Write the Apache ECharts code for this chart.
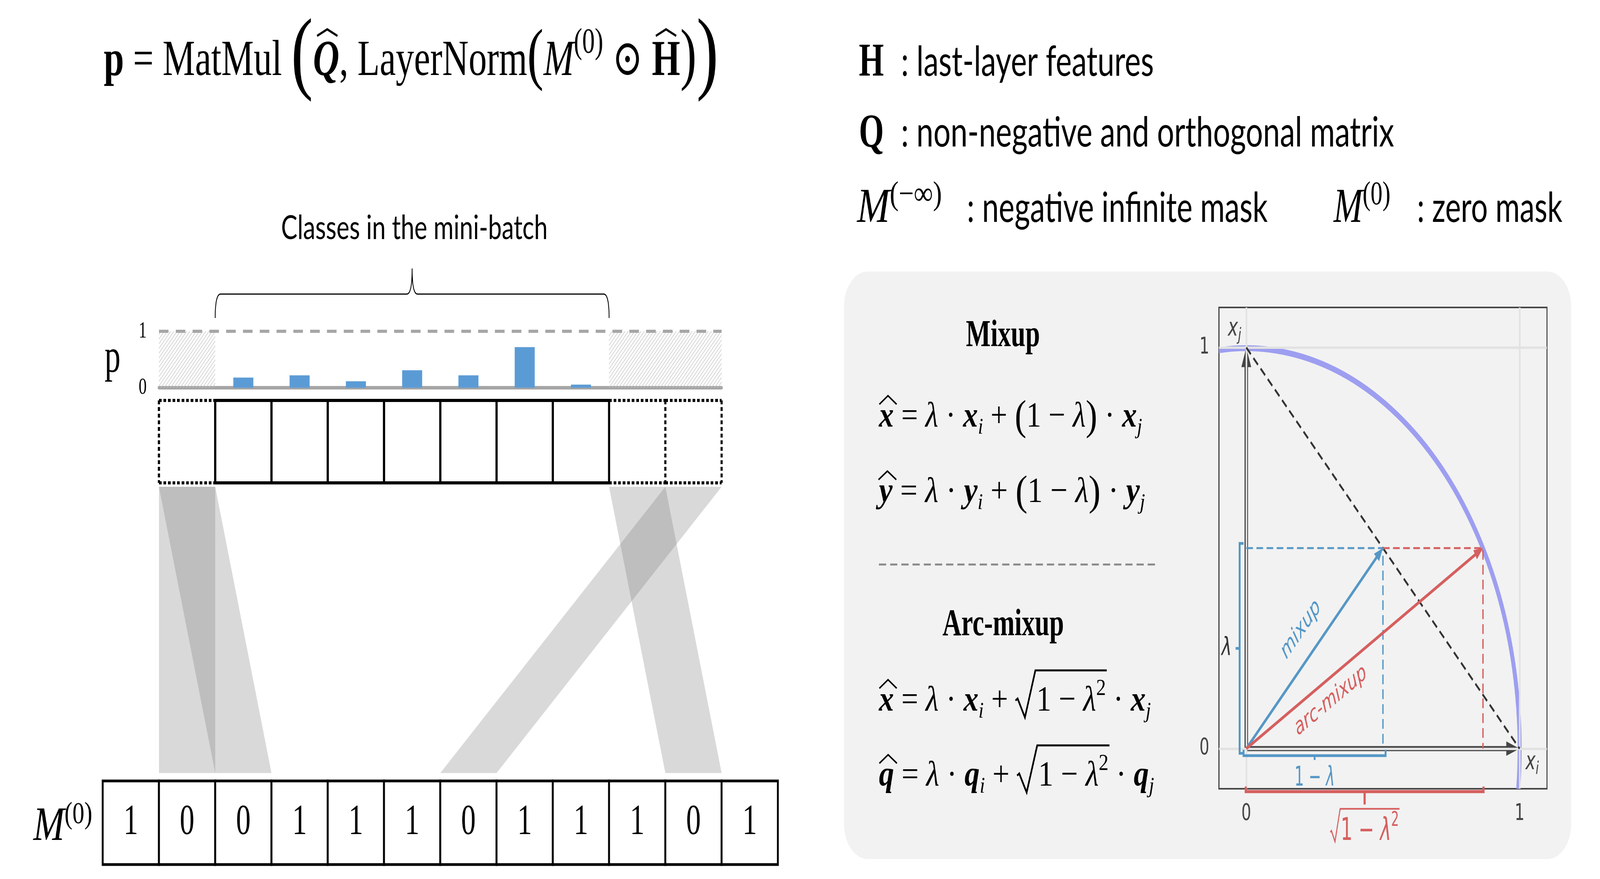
<!DOCTYPE html>
<html>
<head>
<meta charset="utf-8">
<script src="https://cdn.jsdelivr.net/npm/echarts@6/dist/echarts.min.js"></script>
<style>
  html, body { margin: 0; padding: 0; background: #fff; overflow: hidden; }
  #chart { width: 6000px; height: 2250px; transform-origin: 0 0; }
</style>
</head>
<body>
<div id="chart"></div>
<script>
// ---- data ----
const maskValues = [1, 0, 0, 1, 1, 1, 0, 1, 1, 1, 0, 1];
const topCells = ['masked', 'class', 'class', 'class', 'class', 'class', 'class', 'class', 'masked', 'masked'];
const pValues = [0.18, 0.22, 0.115, 0.31, 0.22, 0.72, 0.055];
const bandLinks = [[0, 1], [0, 2], [8, 10], [9, 6]]; // top cell -> bottom cell
const pTicks = [0, 1];

const lambdaVal = 0.5;
const mixupPoint = [0.5, 0.5];
const arcPoint = [0.866, 0.5];
const basis = [[1, 0], [0, 1]];
const basisNames = ['i', 'j'];
const unitTicks = [0, 1];
const unitCircle = [[0, 0, 1]];

// ---- styling ----
const SERIF = "'Liberation Serif', 'DejaVu Serif', serif";
const SANS = "Lato, 'Noto Sans', sans-serif";
const PLOT_FONT = "'DejaVu Sans', sans-serif";
const BLUE = '#5597c6';
const RED = '#d65f5f';
const INK = '#454545';

// rows grid uses cell units: one cell = 1 x 1
const ROW = { top: [0, 1], bandTop: 1.047, bandBottom: 4.52, bottom: [4.616, 5.63],
  braceEnd: -1.0, braceMid: -1.29, braceTip: -1.6 };

// ---- small text layout helper (math-like rows) ----
const mctx = document.createElement('canvas').getContext('2d');
const shiftCache = {};
function fontOf(o) {
  return (o.i ? 'italic ' : '') + (o.b ? 'bold ' : '') + o.s + 'px ' + o.f;
}
function midShift(font) {
  if (shiftCache[font] != null) return shiftCache[font];
  mctx.font = font;
  mctx.textBaseline = 'alphabetic';
  const a = mctx.measureText('Hxg').actualBoundingBoxAscent;
  mctx.textBaseline = 'middle';
  const m = mctx.measureText('Hxg').actualBoundingBoxAscent;
  mctx.textBaseline = 'alphabetic';
  return (shiftCache[font] = a - m);
}
function textRow(pieces, base) {
  const kids = [];
  let x = 0, prev = null, rad = null, overEnd = 0;
  for (const piece of pieces) {
    const o = Object.assign({ s: 100, f: SERIF, fill: '#000', dy: 0, dx: 0 }, base, piece);
    if (piece.rad) {
      rad = { x, e: o.s, fill: o.fill, H: (o.top || 1.2) * o.s, W: (o.w || 0.75) * o.s, B: (o.bot || 0.2) * o.s };
      x += rad.W;
      continue;
    }
    if (piece.hat) {
      const e = o.s, cx = prev.x + prev.w / 2 + o.dx, hw = o.w * e / 2, y0 = -o.y * e;
      kids.push({ type: 'polyline', shape: { points: [[cx - hw, y0], [cx, y0 - o.h * e], [cx + hw, y0]] },
        style: { stroke: o.fill, lineWidth: 0.045 * e, fill: 'none', lineJoin: 'miter' } });
      continue;
    }
    const font = fontOf(o);
    mctx.font = font;
    const w = mctx.measureText(o.t).width;
    const px = x + o.dx;
    kids.push({ type: 'text', x: px, y: o.dy - midShift(font),
      style: { text: o.t, font, fill: o.fill, align: 'left', verticalAlign: 'middle' } });
    prev = { x: px, w };
    x = px + w;
    if (piece.over) overEnd = x;
  }
  if (rad) {
    const { H, W, B } = rad;
    kids.push({ type: 'polyline',
      shape: { points: [[rad.x, -0.25 * H], [rad.x + 0.1 * W, -0.3 * H], [rad.x + 0.45 * W, B],
        [rad.x + 0.95 * W, -H], [overEnd + 0.03 * rad.e, -H]] },
      style: { stroke: rad.fill, lineWidth: 0.055 * rad.e, fill: 'none' } });
  }
  return { kids, width: x };
}
function place(row, x, y, width, extra) {
  const k = width ? width / row.width : 1;
  return Object.assign({ type: 'group', x, y, scaleX: k, children: row.kids }, extra || {});
}
function placeCenter(row, cx, y, width, extra) {
  const w = width || row.width;
  return place(row, cx - w / 2, y, width, extra);
}

// ---- hatch pattern for masked classes ----
const hatch = document.createElement('canvas');
hatch.width = hatch.height = 12;
const hc = hatch.getContext('2d');
hc.strokeStyle = '#c4c4c4';
hc.lineWidth = 1.6;
hc.beginPath();
hc.moveTo(0, 12); hc.lineTo(12, 0);
hc.moveTo(-6, 6); hc.lineTo(6, -6);
hc.moveTo(6, 18); hc.lineTo(18, 6);
hc.stroke();

const maskedRuns = [];
topCells.forEach((k, i) => {
  if (k !== 'masked') return;
  const last = maskedRuns[maskedRuns.length - 1];
  if (last && last[1] === i + 1) last[1] = i + 2;
  else maskedRuns.push([i + 1, i + 2]);
});
const classUnits = topCells.map((k, i) => [i + 1, k]).filter(d => d[1] === 'class').map(d => d[0]);

// ---- texts ----
const capHat = { hat: 1, s: 130, w: 0.56, h: 0.13, y: 0.77, dx: 4 };
const formula = textRow([
  { t: 'p', b: 1 }, { t: ' = ' }, { t: 'MatMul' }, { t: ' ' },
  { t: '(', s: 235, dy: 18 }, { t: 'Q', i: 1, b: 1 }, capHat,
  { t: ', ' }, { t: 'LayerNorm' }, { t: '(', s: 175, dy: 4 },
  { t: 'M', i: 1 }, { t: '(0)', s: 90, dy: -57 }, { t: ' ⊙ ' },
  { t: 'H', b: 1 }, Object.assign({}, capHat, { dx: 0 }),
  { t: ')', s: 175, dy: 4 }, { t: ')', s: 235, dy: 18 }
], { s: 130 });

function mixEq(v, sqrt) {
  const V = { t: v, i: 1, b: 1 };
  const sub = t => ({ t, i: 1, s: 58, dy: 18 });
  const head = [V, { hat: 1, w: 0.58, h: 0.24, y: 0.62, dx: 5 }, { t: ' = ' }, { t: 'λ', i: 1 }, { t: ' · ' }, V, sub('i'), { t: ' + ' }];
  const mid = sqrt
    ? [{ rad: 1, top: 1.12, w: 0.7, bot: 0.19 }, { t: '1 − ', over: 1 }, { t: 'λ', i: 1, over: 1 }, { t: '2', s: 60, dy: -40, over: 1 }]
    : [{ t: '(', s: 108, dy: 7 }, { t: '1 − ' }, { t: 'λ', i: 1 }, { t: ')', s: 108, dy: 7 }];
  return textRow([...head, ...mid, { t: ' · ' }, V, sub('j')], { s: 92 });
}

const graphics = [
  { type: 'rect', z: -10, shape: { x: 3165, y: 695, width: 2727, height: 1504, r: 90 }, style: { fill: '#f2f2f2' } },
  place(formula, 389, 192, 2694 - 389),
  place(textRow([{ t: 'Classes in the mini-batch' }], { s: 85, f: SANS }), 1054, 612, 1000),
  placeCenter(textRow([{ t: 'p' }], { s: 120 }), 422, 951),
  place(textRow([{ t: 'M', i: 1 }, { t: '(0)', s: 78, dy: -43 }], { s: 122 }), 125, 2150, 221),

  place(textRow([{ t: 'H', b: 1 }], { s: 120 }), 3221, 194),
  place(textRow([{ t: ': last-layer features' }], { s: 106, f: SANS }), 3379, 194, 948),
  place(textRow([{ t: 'Q', b: 1 }], { s: 120 }), 3221, 375),
  place(textRow([{ t: ': non-negative and orthogonal matrix' }], { s: 106, f: SANS }), 3379, 375, 1849),
  place(textRow([{ t: 'M', i: 1 }, { t: '(−∞)', s: 85, dy: -45 }], { s: 124 }), 3214, 568, 318),
  place(textRow([{ t: ': negative infinite mask' }], { s: 106, f: SANS }), 3626, 568, 1128),
  place(textRow([{ t: 'M', i: 1 }, { t: '(0)', s: 85, dy: -45 }], { s: 124 }), 5001, 568, 213),
  place(textRow([{ t: ': zero mask' }], { s: 106, f: SANS }), 5314, 568, 545),

  placeCenter(textRow([{ t: 'Mixup', b: 1 }], { s: 98 }), 3761, 886),
  placeCenter(textRow([{ t: 'Arc-mixup', b: 1 }], { s: 98 }), 3762, 1626),
  place(mixEq('x', false), 3296, 1092, 987),
  place(mixEq('y', false), 3296, 1285, 998),
  place(mixEq('x', true), 3296, 1819, 1020),
  place(mixEq('q', true), 3296, 2011, 1032),
  { type: 'line', shape: { x1: 3296, y1: 1445, x2: 4338, y2: 1445 },
    style: { stroke: '#8a8a8a', lineWidth: 5, lineDash: [27, 15] } }
];

// ---- renderers ----
function cellRect(api, x0, x1, y0, y1) {
  const a = api.coord([x0, y0]), b = api.coord([x1, y1]);
  return { x: a[0], y: a[1], width: b[0] - a[0], height: b[1] - a[1] };
}
function maskedCellSeries() {
  const st = { stroke: '#000', lineWidth: 8, lineDash: [10, 7] };
  return {
    type: 'custom', xAxisIndex: 1, yAxisIndex: 1, z: 3, silent: true,
    data: topCells.map((k, i) => [i + 1, k === 'masked' ? 1 : 0]).filter(d => d[1]),
    renderItem: (params, api) => {
      const r = cellRect(api, api.value(0), api.value(0) + 1, ROW.top[0], ROW.top[1]);
      const L = r.x, R = r.x + r.width, T = r.y, B = r.y + r.height;
      const seg = (x1, y1, x2, y2) => ({ type: 'line', shape: { x1, y1, x2, y2 }, style: st });
      return { type: 'group', children: [seg(L, T, R, T), seg(L, B, R, B), seg(L, T, L, B), seg(R, T, R, B)] };
    }
  };
}
function classCellSeries() {
  return {
    type: 'custom', xAxisIndex: 1, yAxisIndex: 1, z: 4, silent: true,
    data: classUnits.map(u => [u]),
    renderItem: (params, api) => ({
      type: 'rect', shape: cellRect(api, api.value(0), api.value(0) + 1, ROW.top[0], ROW.top[1]),
      style: { fill: 'none', stroke: '#000', lineWidth: 8 }
    })
  };
}
function quad(p0, c, p1, n) {
  const pts = [];
  for (let k = 0; k <= n; k++) {
    const t = k / n, u = 1 - t;
    pts.push([u * u * p0[0] + 2 * u * t * c[0] + t * t * p1[0], u * u * p0[1] + 2 * u * t * c[1] + t * t * p1[1]]);
  }
  return pts;
}
function arrowParts(a, b, color, width, headL, headW) {
  const dx = b[0] - a[0], dy = b[1] - a[1], len = Math.hypot(dx, dy);
  const ux = dx / len, uy = dy / len, nx = -uy, ny = ux;
  const bx = b[0] - ux * headL, by = b[1] - uy * headL;
  return [
    { type: 'line', shape: { x1: a[0], y1: a[1], x2: b[0] - ux * headL * 0.6, y2: b[1] - uy * headL * 0.6 },
      style: { stroke: color, lineWidth: width } },
    { type: 'polygon', shape: { points: [[b[0], b[1]], [bx + nx * headW / 2, by + ny * headW / 2], [bx - nx * headW / 2, by - ny * headW / 2]] },
      style: { fill: color } }
  ];
}
function arrowSeries(data, color, width, headL, headW, z, label) {
  return {
    type: 'custom', xAxisIndex: 2, yAxisIndex: 2, z, silent: true, data,
    renderItem: (params, api) => {
      const a = api.coord([api.value(0), api.value(1)]);
      const b = api.coord([api.value(2), api.value(3)]);
      const kids = arrowParts(a, b, color, width, headL, headW);
      if (label) kids.push(...label(params.dataIndex, a, b));
      return { type: 'group', children: kids };
    }
  };
}
function alongLabel(text, color, frac, off) {
  return (i, a, b) => {
    const dx = b[0] - a[0], dy = b[1] - a[1], len = Math.hypot(dx, dy);
    const ux = dx / len, uy = dy / len, nx = uy, ny = -ux;
    return [{ type: 'text', x: a[0] + dx * frac + nx * off, y: a[1] + dy * frac + ny * off,
      rotation: Math.atan2(-dy, dx),
      style: { text, font: 'italic 60px ' + PLOT_FONT, fill: color, align: 'center', verticalAlign: 'middle' } }];
  };
}
function bracketSeries(span, orient, color, opt) {
  return {
    type: 'custom', xAxisIndex: 2, yAxisIndex: 2, z: 8, silent: true, data: [span],
    renderItem: (params, api) => {
      const lo = api.value(0), hi = api.value(1);
      const kids = [];
      const st = { stroke: color, lineWidth: opt.lw, fill: 'none' };
      if (orient === 'v') {
        const a = api.coord([0, lo]), b = api.coord([0, hi]);
        const x = a[0] - opt.off, y0 = a[1] + opt.ext, y1 = b[1] - opt.ext, ym = (a[1] + b[1]) / 2;
        kids.push({ type: 'polyline', shape: { points: [[x + opt.cap, y0], [x, y0], [x, y1], [x + opt.cap, y1]] }, style: st });
        kids.push({ type: 'line', shape: { x1: x, y1: ym, x2: x - opt.tick, y2: ym }, style: st });
        kids.push(place(opt.label, x - opt.lx - opt.label.width, ym + opt.ly));
      } else {
        const a = api.coord([lo, 0]), b = api.coord([hi, 0]);
        const y = a[1] + opt.off, x0 = a[0] - opt.ext, x1 = b[0] + opt.ext, xm = (a[0] + b[0]) / 2;
        kids.push({ type: 'polyline', shape: { points: [[x0, y - opt.cap], [x0, y], [x1, y], [x1, y - opt.cap]] }, style: st });
        kids.push({ type: 'line', shape: { x1: xm, y1: y, x2: xm, y2: y + opt.tick }, style: st });
        kids.push(placeCenter(opt.label, xm + (opt.lx || 0), y + opt.ly, opt.lw2));
      }
      return { type: 'group', children: kids };
    }
  };
}
function dashedLine(points, color, width, dash, z) {
  return { type: 'line', xAxisIndex: 2, yAxisIndex: 2, z, silent: true, data: points,
    symbol: 'none', showSymbol: false, animation: false,
    lineStyle: { color, width, type: dash, cap: 'butt' } };
}

const axisFont = { fontFamily: PLOT_FONT, fontSize: 58, color: '#444' };

const option = {
  backgroundColor: '#ffffff',
  animation: false,
  graphic: { elements: graphics },
  grid: [
    { left: 596, top: 848, width: 2110, height: 144.5, containLabel: false, outerBoundsMode: 'none' },
    { left: 385, top: 1025, width: 2532, height: 1188, containLabel: false, outerBoundsMode: 'none' },
    { left: 4571, top: 787, width: 1230, height: 1232, containLabel: false, outerBoundsMode: 'none',
      show: true, borderColor: INK, borderWidth: 4, backgroundColor: 'transparent' }
  ],
  xAxis: [
    { gridIndex: 0, type: 'value', min: 1, max: 11,
      axisLine: { show: true, lineStyle: { color: '#a6a6a6', width: 9 } },
      axisTick: { show: false }, axisLabel: { show: false }, splitLine: { show: false } },
    { gridIndex: 1, type: 'value', min: 0, max: 12, show: false },
    { gridIndex: 2, type: 'value', min: -0.1, max: 1.1,
      axisLine: { show: false },
      axisTick: { show: true, customValues: unitTicks, length: 16, lineStyle: { color: INK, width: 3 } },
      axisLabel: Object.assign({ customValues: unitTicks, margin: 36 }, axisFont),
      splitLine: { show: false } }
  ],
  yAxis: [
    { gridIndex: 0, type: 'value', min: 0, max: 1, interval: 1,
      axisLine: { show: false }, axisTick: { show: false }, splitLine: { show: false },
      axisLabel: { fontFamily: SERIF, fontSize: 60, color: '#000', margin: 46, customValues: pTicks } },
    { gridIndex: 1, type: 'value', min: 0, max: 5.63, inverse: true, show: false },
    { gridIndex: 2, type: 'value', min: -0.1, max: 1.1,
      axisLine: { show: false },
      axisTick: { show: true, customValues: unitTicks, length: 18, lineStyle: { color: INK, width: 3 } },
      axisLabel: Object.assign({ customValues: unitTicks, margin: 36 }, axisFont),
      splitLine: { show: false } }
  ],
  series: [
    // p distribution over the classes in the mini-batch
    { type: 'bar', xAxisIndex: 0, yAxisIndex: 0, z: 4, silent: true, barWidth: 75,
      data: pValues.map((v, i) => [classUnits[i] + 0.5, v]),
      itemStyle: { color: '#5b9bd5' },
      markArea: { silent: true, itemStyle: { color: { image: hatch, repeat: 'repeat' } },
        data: maskedRuns.map(r => [{ xAxis: r[0], yAxis: 0 }, { xAxis: r[1], yAxis: 1 }]) },
      markLine: { silent: true, symbol: ['none', 'none'], label: { show: false },
        lineStyle: { color: '#a6a6a6', width: 8, type: [36, 27], cap: 'butt' },
        data: [{ yAxis: 1 }] } },

    // links between masked slots and mask entries
    { type: 'custom', xAxisIndex: 1, yAxisIndex: 1, z: 2, silent: true, data: bandLinks,
      renderItem: (params, api) => {
        const t = api.value(0) + 1, b = api.value(1);
        const pts = [api.coord([t, ROW.bandTop]), api.coord([t + 1, ROW.bandTop]),
          api.coord([b + 1, ROW.bandBottom]), api.coord([b, ROW.bandBottom])];
        return { type: 'polygon', shape: { points: pts }, style: { fill: 'rgba(128,128,128,0.3)' } };
      } },
    maskedCellSeries(),
    classCellSeries(),

    // mask row M(0)
    { type: 'custom', xAxisIndex: 1, yAxisIndex: 1, z: 3, silent: true,
      data: maskValues.map((v, i) => [i, v]),
      renderItem: (params, api) => {
        const i = api.value(0);
        const r = cellRect(api, i, i + 1, ROW.bottom[0], ROW.bottom[1]);
        return { type: 'group', children: [
          { type: 'rect', shape: r, style: { fill: '#fff', stroke: '#000', lineWidth: 7 } },
          { type: 'text', x: r.x + r.width / 2, y: r.y + r.height / 2,
            style: { text: String(api.value(1)), font: '110px ' + SERIF, fill: '#000', align: 'center', verticalAlign: 'middle' } }
        ] };
      } },

    // brace over the classes in the mini-batch
    { type: 'custom', xAxisIndex: 1, yAxisIndex: 1, z: 3, silent: true,
      data: [[classUnits[0], classUnits[classUnits.length - 1] + 1]],
      renderItem: (params, api) => {
        const a = api.coord([api.value(0), ROW.braceEnd]), b = api.coord([api.value(1), ROW.braceEnd]);
        const yM = api.coord([0, ROW.braceMid])[1], yT = api.coord([0, ROW.braceTip])[1];
        const xc = (a[0] + b[0]) / 2, r = 20;
        const pts = [
          ...quad([a[0], a[1]], [a[0], yM], [a[0] + r, yM], 12),
          ...quad([xc - r, yM], [xc, yM], [xc, yT], 12),
          ...quad([xc, yT], [xc, yM], [xc + r, yM], 12),
          ...quad([b[0] - r, yM], [b[0], yM], [b[0], b[1]], 12)
        ];
        return { type: 'polyline', shape: { points: pts }, style: { stroke: '#000', lineWidth: 3, fill: 'none' } };
      } },

    // ---- right-hand plot ----
    { type: 'line', xAxisIndex: 2, yAxisIndex: 2, z: 1, silent: true, data: [], symbol: 'none',
      markLine: { silent: true, symbol: ['none', 'none'], label: { show: false },
        lineStyle: { color: '#e2e2e2', width: 6, type: 'solid' },
        data: [...unitTicks.map(v => ({ xAxis: v })), ...unitTicks.map(v => ({ yAxis: v }))] } },
    { type: 'custom', xAxisIndex: 2, yAxisIndex: 2, z: 2, silent: true, clip: true, data: unitCircle,
      renderItem: (params, api) => {
        const c = api.coord([api.value(0), api.value(1)]);
        const r = api.size([api.value(2), 0])[0];
        return { type: 'arc', shape: { cx: c[0], cy: c[1], r, startAngle: -Math.PI / 2 - 0.2, endAngle: 0.2, clockwise: true },
          style: { stroke: '#9d9ef0', lineWidth: 15, fill: 'none' } };
      } },
    arrowSeries(basis.map(v => [0, 0, v[0], v[1]]), INK, 13, 50, 37, 4, (i, a, b) => {
      const lab = textRow([{ t: 'x', i: 1 }, { t: basisNames[i], i: 1, s: 44, dy: 12 }], { s: 64, f: PLOT_FONT, fill: '#444' });
      return [i === 0 ? place(lab, b[0] + 22, b[1] + 53) : place(lab, b[0] - 69, b[1] - 31)];
    }),
    dashedLine([[0, 1], [1, 0]], '#333', 6, [24, 14], 5),
    dashedLine([[0, lambdaVal], mixupPoint, [mixupPoint[0], 0]], BLUE, 5, [25, 13], 5),
    dashedLine([mixupPoint, arcPoint, [arcPoint[0], 0]], RED, 5, [25, 13], 5),
    arrowSeries([[0, 0, ...mixupPoint]], BLUE, 8, 34, 27, 6, alongLabel('mixup', BLUE, 0.497, 70)),
    arrowSeries([[0, 0, ...arcPoint]], RED, 8, 34, 27, 6, alongLabel('arc-mixup', RED, 0.327, -53)),
    bracketSeries([0, lambdaVal], 'v', BLUE, { lw: 7, off: 25, ext: 12, cap: 15, tick: 15, lx: 30, ly: 17,
      label: textRow([{ t: 'λ', i: 1 }], { s: 64, f: PLOT_FONT, fill: '#333' }) }),
    bracketSeries([0, 1 - lambdaVal], 'h', BLUE, { lw: 7, off: 18, ext: 10, cap: 15, tick: 11, ly: 77, lw2: 151,
      label: textRow([{ t: '1 − ' }, { t: 'λ', i: 1 }], { s: 70, f: PLOT_FONT, fill: BLUE }) }),
    bracketSeries([0, arcPoint[0]], 'h', RED, { lw: 8, off: 110, ext: 2, cap: 13, tick: 33, ly: 124, lw2: 257,
      label: textRow([{ rad: 1, top: 1.0, w: 0.55, bot: 0.05 }, { t: '1 − ', over: 1 }, { t: 'λ', i: 1, over: 1 }, { t: '2', s: 52, dy: -36, over: 1 }],
        { s: 80, f: PLOT_FONT, fill: RED }) })
  ]
};

// the chart is laid out on a 6000 x 2250 page; fit it to the actual window if that differs
const el = document.getElementById('chart');
const sx = window.innerWidth / 6000, sy = window.innerHeight / 2250;
if (Math.abs(sx - 1) > 0.005 || Math.abs(sy - 1) > 0.005) el.style.transform = 'scale(' + sx + ',' + sy + ')';
const chart = echarts.init(el, null, { renderer: 'canvas' });
chart.setOption(option);
</script>
</body>
</html>
